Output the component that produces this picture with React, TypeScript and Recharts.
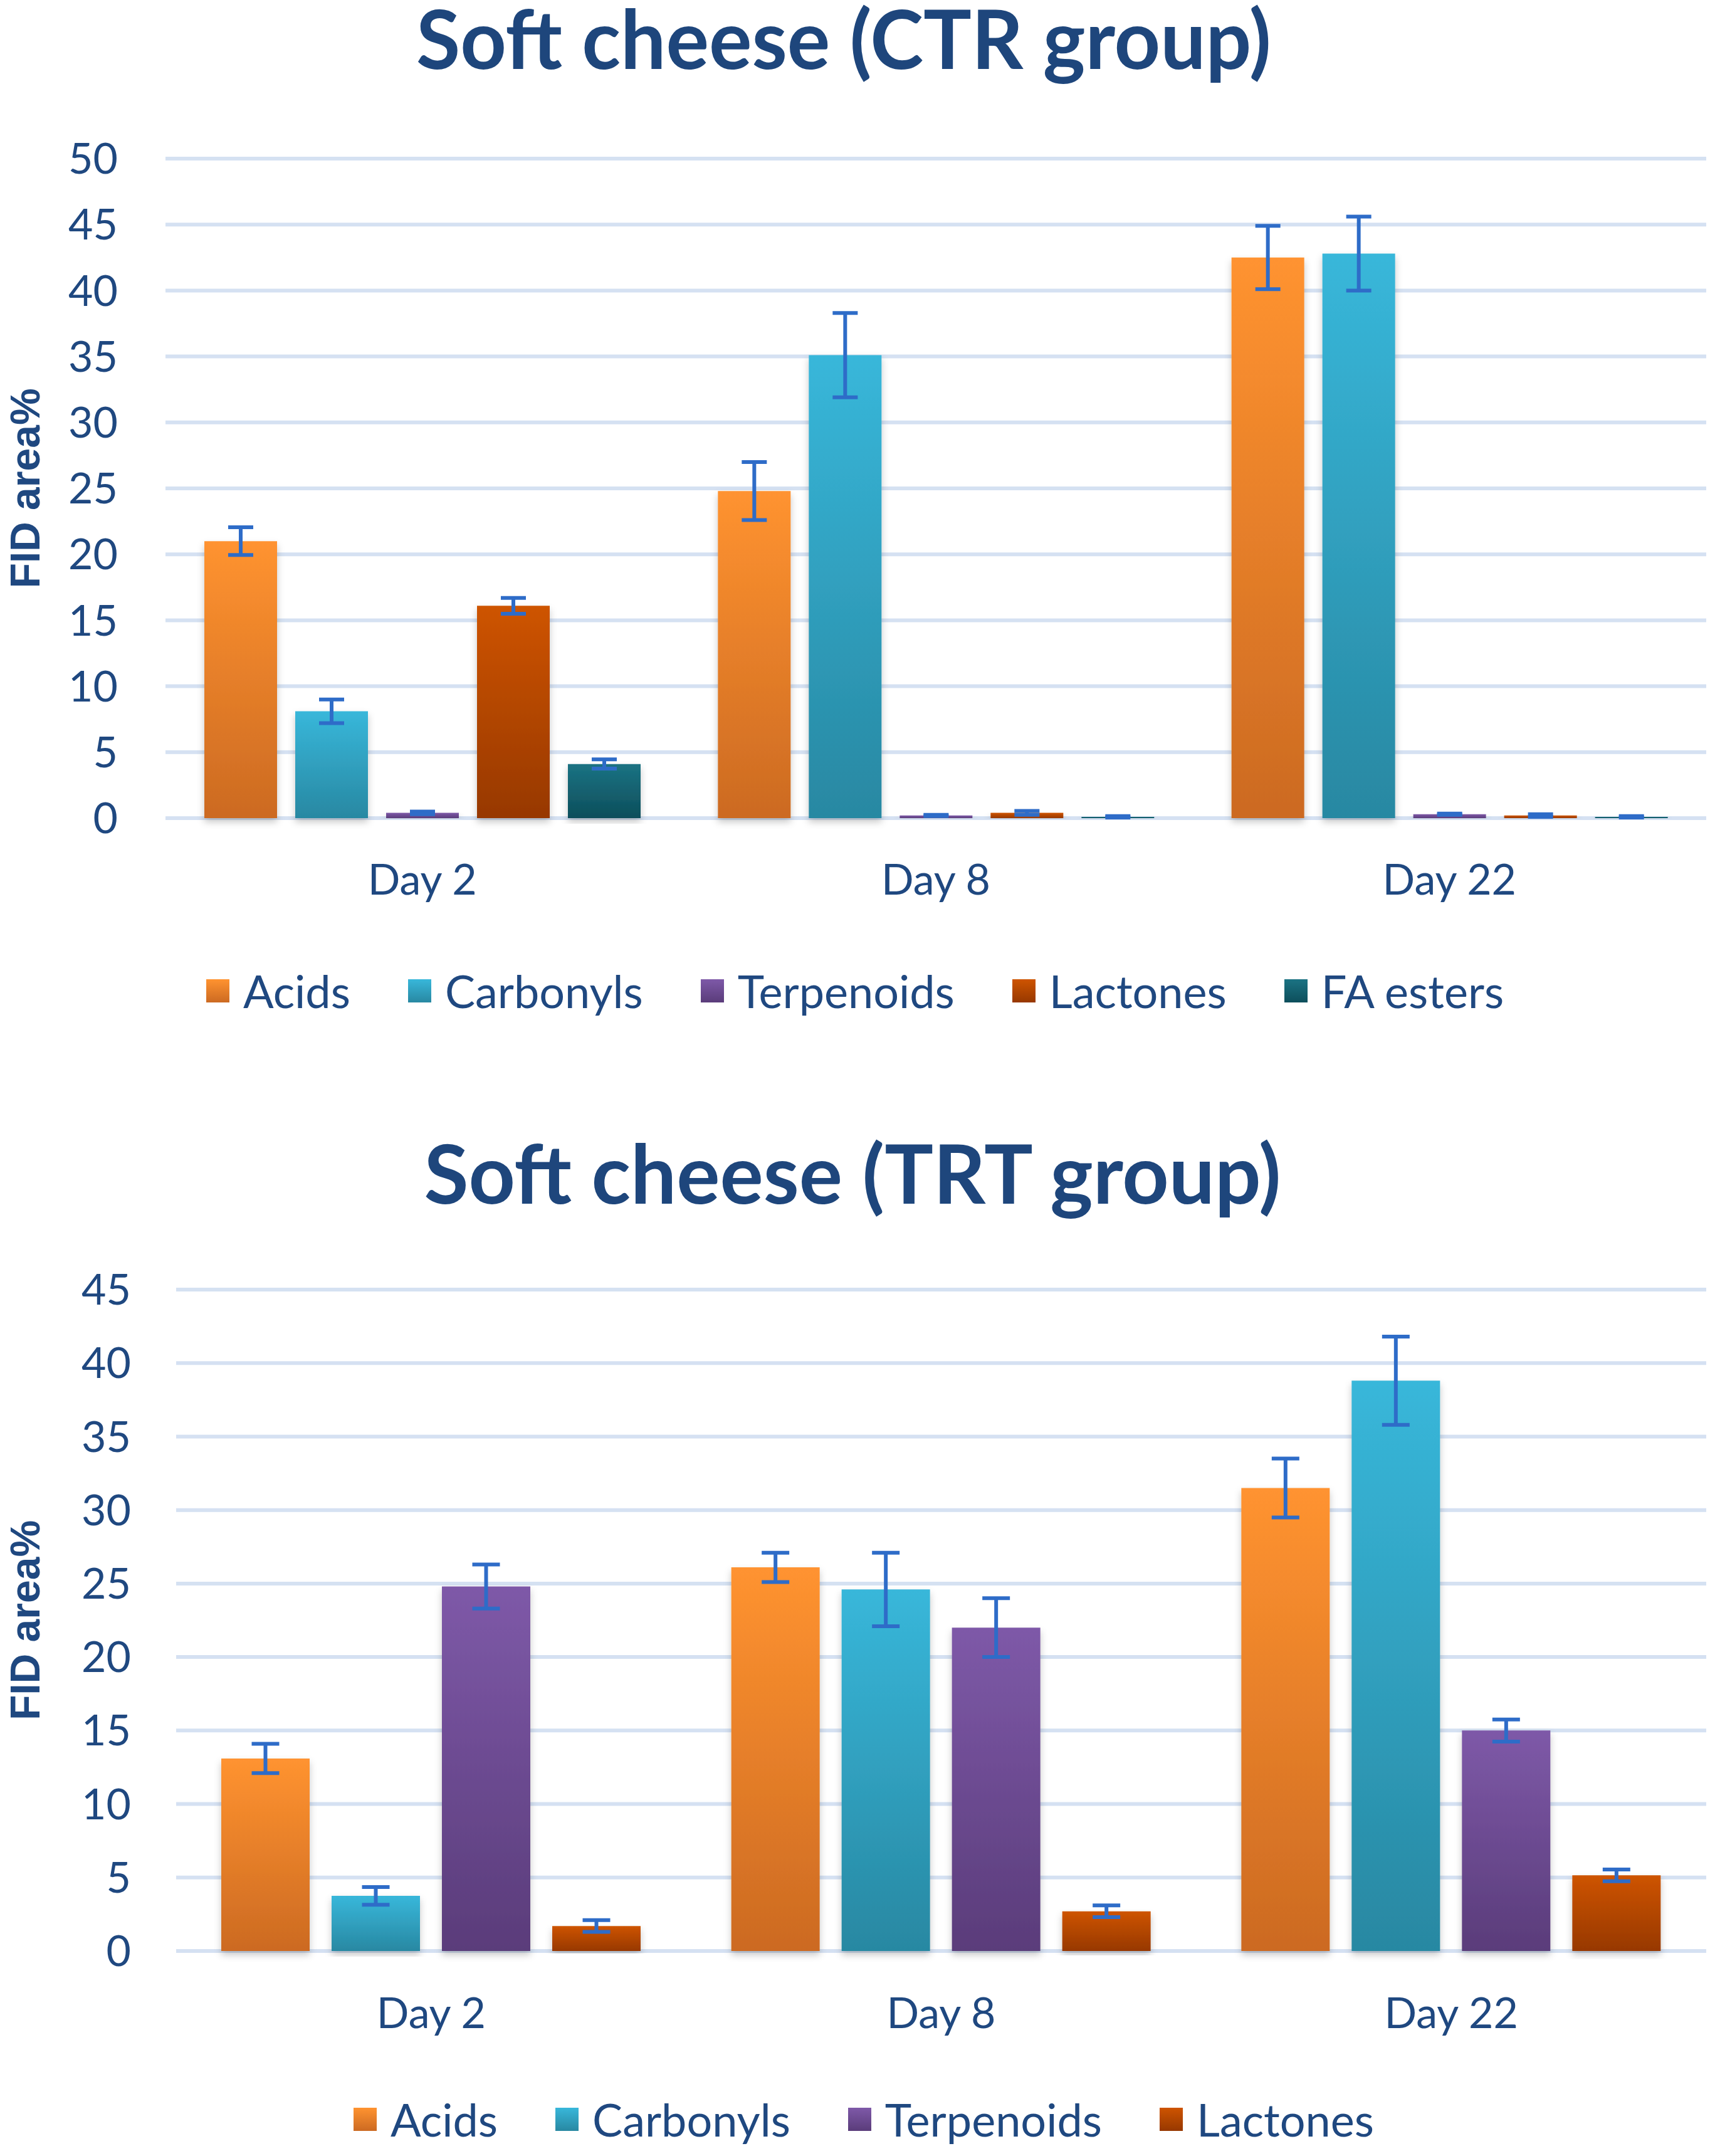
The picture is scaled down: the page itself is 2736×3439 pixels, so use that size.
import { BarChart, Bar, XAxis, YAxis, CartesianGrid, Legend, ErrorBar } from 'recharts';

const days = ['Day 2', 'Day 8', 'Day 22'];

// CTR group (FID area %)
const ctrAcids = [21.0, 24.8, 42.5];
const ctrAcidsErr = [1.05, 2.2, 2.4];
const ctrCarbonyls = [8.1, 35.1, 42.8];
const ctrCarbonylsErr = [0.9, 3.2, 2.8];
const ctrTerpenoids = [0.4, 0.2, 0.3];
const ctrTerpenoidsErr = [0.1, 0.05, 0.05];
const ctrLactones = [16.1, 0.4, 0.2];
const ctrLactonesErr = [0.6, 0.15, 0.1];
const ctrFaEsters = [4.1, 0.1, 0.1];
const ctrFaEstersErr = [0.35, 0.05, 0.05];

// TRT group (FID area %)
const trtAcids = [13.1, 26.1, 31.5];
const trtAcidsErr = [1.0, 1.0, 2.0];
const trtCarbonyls = [3.75, 24.6, 38.8];
const trtCarbonylsErr = [0.6, 2.5, 3.0];
const trtTerpenoids = [24.8, 22.0, 15.0];
const trtTerpenoidsErr = [1.5, 2.0, 0.75];
const trtLactones = [1.7, 2.7, 5.15];
const trtLactonesErr = [0.4, 0.4, 0.4];

const ctrTicks = [0, 5, 10, 15, 20, 25, 30, 35, 40, 45, 50];
const trtTicks = [0, 5, 10, 15, 20, 25, 30, 35, 40, 45];

const seriesStyle: Record<string, { name: string; top: string; bottom: string }> = {
  acids: { name: 'Acids', top: '#FF9330', bottom: '#CC6A22' },
  carbonyls: { name: 'Carbonyls', top: '#38B7DA', bottom: '#2888A2' },
  terpenoids: { name: 'Terpenoids', top: '#7E59A8', bottom: '#5A3C7A' },
  lactones: { name: 'Lactones', top: '#CE5400', bottom: '#973800' },
  faEsters: { name: 'FA esters', top: '#1B7383', bottom: '#0D4E5B' },
};

const ctrData = days.map((day, i) => ({
  day,
  acids: ctrAcids[i], acidsErr: ctrAcidsErr[i],
  carbonyls: ctrCarbonyls[i], carbonylsErr: ctrCarbonylsErr[i],
  terpenoids: ctrTerpenoids[i], terpenoidsErr: ctrTerpenoidsErr[i],
  lactones: ctrLactones[i], lactonesErr: ctrLactonesErr[i],
  faEsters: ctrFaEsters[i], faEstersErr: ctrFaEstersErr[i],
}));

const trtData = days.map((day, i) => ({
  day,
  acids: trtAcids[i], acidsErr: trtAcidsErr[i],
  carbonyls: trtCarbonyls[i], carbonylsErr: trtCarbonylsErr[i],
  terpenoids: trtTerpenoids[i], terpenoidsErr: trtTerpenoidsErr[i],
  lactones: trtLactones[i], lactonesErr: trtLactonesErr[i],
}));

const navy = '#1F4880';
const errColor = '#2E6CC8';
const gridColor = '#D5E1F2';
const font = 'Lato, "Open Sans", sans-serif';

const W = 2736;

type PanelProps = {
  id: string;
  title: string;
  titleX: number;
  titleBaseline: number;
  titleWidth: number;
  data: any[];
  keys: string[];
  ticks: number[];
  height: number;
  plotTop: number;
  plotBottom: number;
  plotLeft: number;
  tickGap: number;
  xLabelGap: number;
  barSize: number;
  barGap: number;
  capWidth: number;
  legendTop: number;
  legendShift: number;
};

const Panel = (p: PanelProps) => {
  const xAxisHeight = 200;
  // legend keeps the series order of the bars
  const renderLegend = () => (
    <div
      style={{
        display: 'flex',
        justifyContent: 'center',
        alignItems: 'center',
        height: 80,
        paddingLeft: p.legendShift,
        fontFamily: font,
        fontSize: 72,
        color: navy,
      }}
    >
      {p.keys.map((k) => {
        const s = seriesStyle[k];
        return (
          <div key={k} style={{ display: 'flex', alignItems: 'center', marginRight: 92 }}>
            <div
              style={{
                width: 37,
                height: 37,
                marginRight: 22,
                background: `linear-gradient(${s.top}, ${s.bottom})`,
              }}
            />
            <span>{s.name}</span>
          </div>
        );
      })}
    </div>
  );

  const renderYLabel = (props: any) => {
    const vb = props.viewBox || {};
    const cy = vb.y + vb.height / 2;
    return (
      <text
        x={40}
        y={cy}
        transform={`rotate(-90, 40, ${cy})`}
        textAnchor="middle"
        dominantBaseline="central"
        fontFamily='"Liberation Sans", Arial, sans-serif'
        fontWeight={700}
        fontSize={66}
        fill={navy}
      >
        FID area%
      </text>
    );
  };

  return (
    <div style={{ position: 'relative', width: W, height: p.height, background: '#fff' }}>
      <BarChart
        width={W}
        height={p.height}
        data={p.data}
        barSize={p.barSize}
        barGap={p.barGap}
        margin={{ top: p.plotTop, right: 14, bottom: p.height - p.plotBottom - xAxisHeight, left: 0 }}
      >
        <defs>
          {p.keys.map((k) => (
            <linearGradient key={k} id={`${p.id}-${k}`} x1="0" y1="0" x2="0" y2="1">
              <stop offset="0%" stopColor={seriesStyle[k].top} />
              <stop offset="100%" stopColor={seriesStyle[k].bottom} />
            </linearGradient>
          ))}
          <filter id={`${p.id}-shadow`} x="-20%" y="-5%" width="140%" height="115%">
            <feDropShadow dx="0" dy="6" stdDeviation="6" floodColor="#000" floodOpacity="0.22" />
          </filter>
        </defs>
        <CartesianGrid vertical={false} stroke={gridColor} strokeWidth={6} />
        <XAxis
          dataKey="day"
          axisLine={false}
          tickLine={false}
          tickSize={0}
          tickMargin={p.xLabelGap}
          height={xAxisHeight}
          tick={{ fill: navy, fontSize: 68, fontFamily: font }}
        />
        <YAxis
          domain={[0, p.ticks[p.ticks.length - 1]]}
          ticks={p.ticks}
          interval={0}
          axisLine={false}
          tickLine={false}
          tickSize={0}
          tickMargin={p.tickGap}
          width={p.plotLeft}
          tick={{ fill: navy, fontSize: 68, fontFamily: font }}
          label={{ value: 'FID area%', content: renderYLabel }}
        />
        <Legend
          verticalAlign="middle"
          align="center"
          layout="horizontal"
          content={renderLegend}
          wrapperStyle={{ top: p.legendTop, left: 0, width: W }}
        />
        {p.keys.map((k) => (
          <Bar
            key={k}
            dataKey={k}
            name={seriesStyle[k].name}
            fill={`url(#${p.id}-${k})`}
            filter={`url(#${p.id}-shadow)`}
            isAnimationActive={false}
          >
            <ErrorBar
              dataKey={`${k}Err`}
              width={p.capWidth}
              stroke={errColor}
              strokeWidth={6}
              isAnimationActive={false}
            />
          </Bar>
        ))}
      </BarChart>
      <svg
        width={W}
        height={p.titleBaseline + 60}
        style={{ position: 'absolute', left: 0, top: 0, pointerEvents: 'none' }}
      >
        <text
          x={p.titleX}
          y={p.titleBaseline}
          textAnchor="middle"
          fontFamily={font}
          fontWeight={700}
          fontSize={130}
          fill="#1E467C"
          textLength={p.titleWidth}
          lengthAdjust="spacingAndGlyphs"
        >
          {p.title}
        </text>
      </svg>
    </div>
  );
};

export default function App() {
  return (
    <div style={{ position: 'absolute', left: 0, top: 0, width: W, height: 3439, background: '#fff' }}>
      <Panel
        id="ctr"
        title="Soft cheese (CTR group)"
        titleX={1346}
        titleBaseline={110}
        titleWidth={1364}
        data={ctrData}
        keys={['acids', 'carbonyls', 'terpenoids', 'lactones', 'faEsters']}
        ticks={ctrTicks}
        height={1720}
        plotTop={253}
        plotBottom={1305}
        plotLeft={264}
        tickGap={76}
        xLabelGap={74}
        barSize={116}
        barGap={29}
        capWidth={20}
        legendTop={1540}
        legendShift={84}
      />
      <Panel
        id="trt"
        title="Soft cheese (TRT group)"
        titleX={1360}
        titleBaseline={200}
        titleWidth={1367}
        data={trtData}
        keys={['acids', 'carbonyls', 'terpenoids', 'lactones']}
        ticks={trtTicks}
        height={1719}
        plotTop={337}
        plotBottom={1392}
        plotLeft={281}
        tickGap={72}
        xLabelGap={75}
        barSize={141}
        barGap={35}
        capWidth={22}
        legendTop={1620}
        legendShift={112}
      />
    </div>
  );
}
